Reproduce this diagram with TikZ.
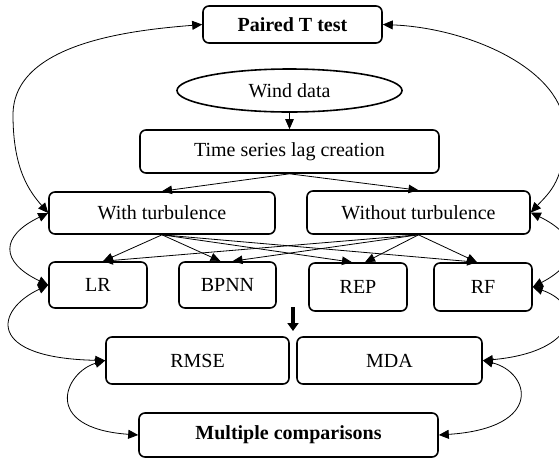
\documentclass[tikz,border=0pt]{standalone}
\usepackage{fontspec}
\setmainfont{Liberation Serif}
\usetikzlibrary{arrows.meta,shapes.geometric}
\begin{document}
\begin{tikzpicture}[x=1pt,y=-1pt,
  box/.style={draw,rounded corners=6pt,line width=1.6pt,inner sep=0pt,font=\fontsize{20}{24}\selectfont},
  oval/.style={draw,ellipse,line width=1.6pt,inner sep=0pt,font=\fontsize{20}{24}\selectfont},
  con/.style={line width=0.8pt,-{Triangle[length=10pt,width=8.5pt]}},
  dcon/.style={line width=0.8pt,{Triangle[length=10pt,width=9pt]}-{Triangle[length=10pt,width=9pt]}},
  bigarr/.style={line width=4pt,-{Triangle[length=8pt,width=11pt]}}
]
\useasboundingbox (0,0) rectangle (559,459);

\node[box,minimum width=179pt,minimum height=37pt] (pt) at (292.5,24.5) {\bfseries Paired T test};
\node[oval,minimum width=225pt,minimum height=43pt] (wind) at (289.5,90.5) {Wind data};
\node[box,minimum width=299pt,minimum height=43pt] (ts) at (289.5,151.5) {Time series lag creation};
\node[box,minimum width=226pt,minimum height=42pt] (with) at (162,213) {With turbulence};
\node[box,minimum width=223pt,minimum height=43pt] (without) at (418.5,212.5) {Without turbulence};
\node[box,minimum width=98pt,minimum height=46pt] (lr) at (98,285) {LR};
\node[box,minimum width=97pt,minimum height=46pt] (bpnn) at (227.5,285) {BPNN};
\node[box,minimum width=98pt,minimum height=48pt] (rep) at (358,287) {REP};
\node[box,minimum width=98pt,minimum height=48pt] (rf) at (483,287) {RF};
\node[box,minimum width=183pt,minimum height=47pt] (rmse) at (197.5,360.5) {RMSE};
\node[box,minimum width=185pt,minimum height=47pt] (mda) at (389.5,360.5) {MDA};
\node[box,minimum width=299pt,minimum height=44pt] (mc) at (288.5,435) {\bfseries Multiple comparisons};

\coordinate (ta) at (293,307);
\coordinate (tb) at (293,331);
\coordinate (lc) at (13,115);
\coordinate (rc) at (565,131);

% straight connectors
\draw[con] (wind.south) -- (ts.north);
\draw[con] (ts.south) -- (with.north);
\draw[con] (ts.south) -- (without.north);
\draw[con] (with.south) -- ([xshift=5pt]lr.north);
\draw[con] (with.south) -- ([xshift=-7pt]bpnn.north);
\draw[con] (with.south) -- ([xshift=-6pt]rep.north);
\draw[con] (with.south) -- ([xshift=-6pt]rf.north);
\draw[con] (without.south) -- ([xshift=5pt]lr.north);
\draw[con] (without.south) -- ([xshift=5pt]bpnn.north);
\draw[con] (without.south) -- ([xshift=7pt]rep.north);
\draw[con] (without.south) -- ([xshift=-6pt]rf.north);
\draw[bigarr] (ta) -- (tb);

% curved connectors, left side
\draw[dcon] (pt.west) .. controls (135,30) and (13,42) .. (lc) .. controls (13,170) and (30,192) .. (with.west);
\draw[dcon] (with.west) .. controls (0,236) and (0,262) .. (lr.west);
\draw[dcon] (lr.west) .. controls (-5,310) and (-15,358) .. (rmse.west);
\draw[dcon] (rmse.west) .. controls (65,372) and (40,428) .. (mc.west);

% curved connectors, right side
\draw[dcon] (pt.east) .. controls (470,28) and (565,70) .. (rc) .. controls (565,180) and (550,192) .. (without.east);
\draw[dcon] (without.east) .. controls (579,236) and (581,262) .. (rf.east);
\draw[dcon] (rf.east) .. controls (585,305) and (578,352) .. (mda.east);
\draw[dcon] (mda.east) .. controls (530,372) and (545,428) .. (mc.east);
\end{tikzpicture}
\end{document}
